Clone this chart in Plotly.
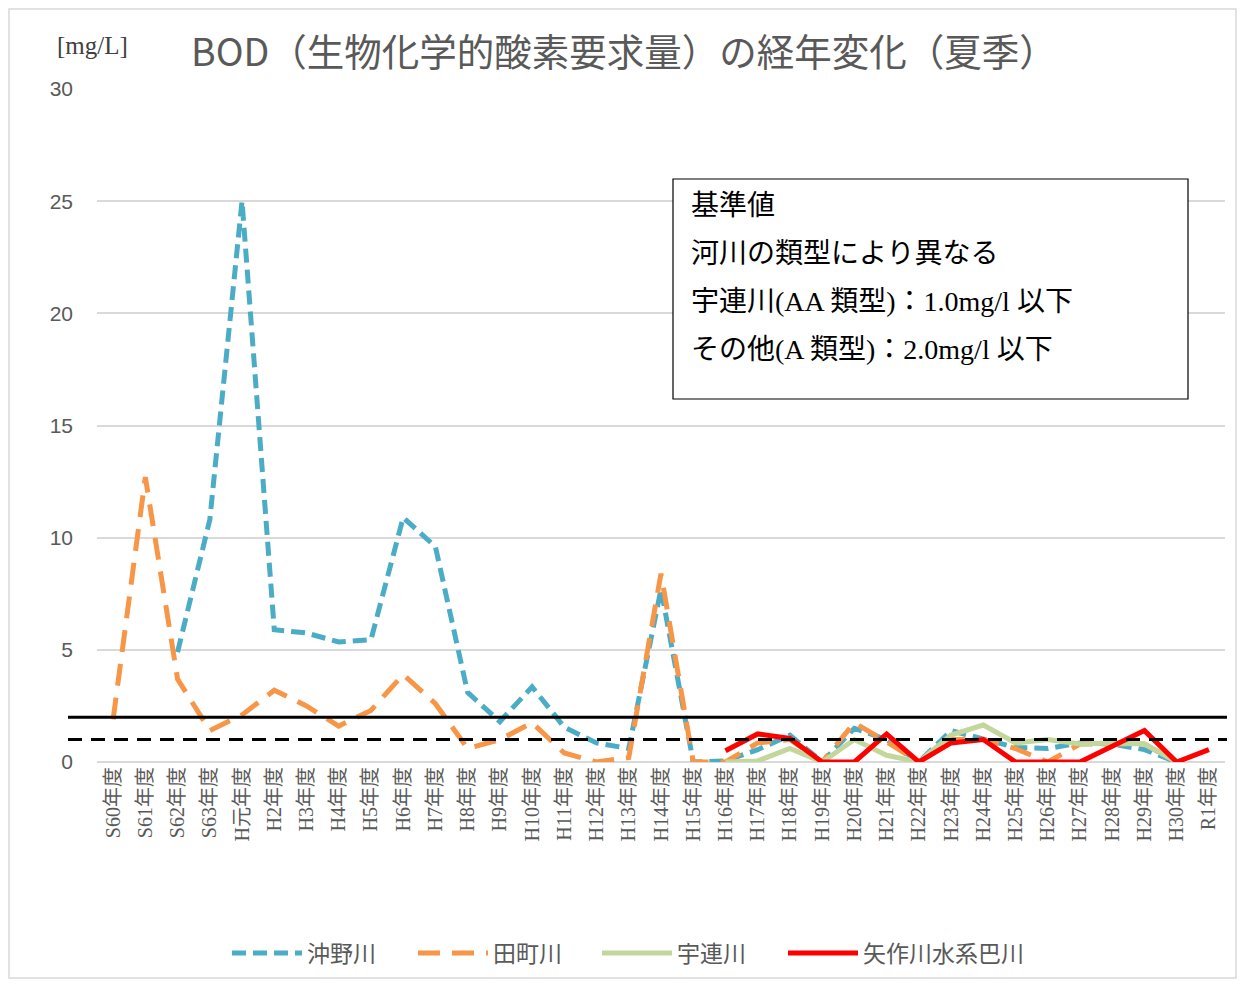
import plotly.graph_objects as go

categories = ["S60年度", "S61年度", "S62年度", "S63年度", "H元年度"] + \
    [f"H{i}年度" for i in range(2, 31)] + ["R1年度"]

okino = [None, None, 4.9, 10.8, 25.0, 5.9, 5.75, 5.35, 5.45, 10.9, 9.6, 3.1, 1.8, 3.35,
         1.55, 0.85, 0.6, 7.7, 0.0, 0.05, 0.55, 1.2, 0.0, 1.5, 1.0, 0.0, 1.4, 1.0,
         0.65, 0.6, 0.85, 0.8, 0.55, 0.0, None]
tamachi = [1.9, 12.7, 3.7, 1.4, 2.1, 3.2, 2.5, 1.6, 2.3, 3.9, 2.6, 0.6, 1.0, 1.75,
           0.4, 0.0, 0.2, 8.4, 0.0, 0.0, 0.85, 1.0, 0.0, 1.75, 0.9, 0.0, 1.0, 1.0,
           0.6, 0.0, 0.8, 0.8, 0.8, 0.0, None]
uren = [None] * 19 + [0.0, 0.05, 0.6, 0.0, 1.0, 0.3, 0.0, 1.2, 1.65, 0.85, 1.0,
                      0.8, 0.85, 0.8, 0.0, None]
tomoe = [None] * 19 + [0.5, 1.25, 1.05, 0.0, 0.0, 1.25, 0.0, 0.85, 1.0, 0.0, 0.0,
                       0.0, 0.7, 1.4, 0.0, 0.55]

series_names = ["沖野川", "田町川", "宇連川", "矢作川水系巴川"]
standard_values = [2.0, 1.0]  # A類型 (solid), AA類型 (dashed)

title_text = "BOD（生物化学的酸素要求量）の経年変化（夏季）"
unit_text = "[mg/L]"
box_lines = ["基準値", "河川の類型により異なる",
             "宇連川(AA 類型)：1.0mg/l 以下", "その他(A 類型)：2.0mg/l 以下"]

JP = "Noto Sans CJK JP"
SERIF = "Liberation Serif, Noto Sans CJK JP"
GRAY = "#595959"

fig = go.Figure()
fig.add_trace(go.Scatter(x=categories, y=okino, name=series_names[0], mode="lines",
                         line=dict(color="#4bacc6", width=5, dash="14px,7px"),
                         legend="legend"))
fig.add_trace(go.Scatter(x=categories, y=tamachi, name=series_names[1], mode="lines",
                         line=dict(color="#f79646", width=5, dash="22px,12px"),
                         legend="legend2"))
fig.add_trace(go.Scatter(x=categories, y=uren, name=series_names[2], mode="lines",
                         line=dict(color="#c3d69b", width=5), legend="legend3"))
fig.add_trace(go.Scatter(x=categories, y=tomoe, name=series_names[3], mode="lines",
                         line=dict(color="#ff0000", width=5), legend="legend4"))

# page offset of the figure (body margin) and plot area in page pixels
OFF = 8
FW, FH = 1229, 971
L, R, T, B = 97, 1225, 89, 762
W, H = R - L, B - T


def px(x):
    return (x - L) / W


def py(y):
    return (B - y) / H


shapes = []
shapes.append(dict(type="line", xref="paper", yref="y", x0=px(68), x1=px(1227),
                   y0=standard_values[0], y1=standard_values[0],
                   line=dict(color="black", width=3)))
shapes.append(dict(type="line", xref="paper", yref="y", x0=px(68), x1=px(1227),
                   y0=standard_values[1], y1=standard_values[1],
                   line=dict(color="black", width=3, dash="14px,9px")))
shapes.append(dict(type="rect", xref="paper", yref="paper", x0=px(673), x1=px(1188),
                   y0=py(399), y1=py(179), fillcolor="white",
                   line=dict(color="black", width=1.2), layer="above"))
shapes.append(dict(type="rect", xref="paper", yref="paper", x0=px(9), x1=px(1236),
                   y0=py(978), y1=py(9), line=dict(color="#d9d9d9", width=1.5)))

annotations = []
for i, t in enumerate(box_lines):
    annotations.append(dict(text=t, xref="paper", yref="paper", x=px(689), y=py(205 + 48 * i),
                            xanchor="left", yanchor="middle", showarrow=False,
                            font=dict(family=SERIF, size=28, color="black")))
annotations.append(dict(text=unit_text, xref="paper", yref="paper", x=px(92), y=py(45),
                        xanchor="center", yanchor="middle", showarrow=False,
                        font=dict(family=SERIF, size=25, color="#404040")))
annotations.append(dict(text=title_text, xref="paper", yref="paper", x=px(624), y=py(50),
                        xanchor="center", yanchor="middle", showarrow=False,
                        font=dict(family=JP, size=37.5, color=GRAY)))

legend_x = [227, 413, 597, 783]
legend_common = dict(orientation="h", xanchor="left", y=py(953), yanchor="middle",
                     font=dict(family=JP, size=23, color=GRAY), itemwidth=70,
                     bgcolor="rgba(0,0,0,0)")

fig.update_layout(
    width=FW, height=FH,
    margin=dict(l=L - OFF, r=OFF + FW - R, t=T - OFF, b=OFF + FH - B, pad=0,
                autoexpand=False),
    paper_bgcolor="white", plot_bgcolor="white",
    showlegend=True,
    legend=dict(x=px(legend_x[0]), **legend_common),
    legend2=dict(x=px(legend_x[1]), **legend_common),
    legend3=dict(x=px(legend_x[2]), **legend_common),
    legend4=dict(x=px(legend_x[3]), **legend_common),
    shapes=shapes, annotations=annotations,
    xaxis=dict(type="category", tickangle=-90, showgrid=False, ticks="",
               tickfont=dict(family=SERIF, size=20, color=GRAY), showline=False,
               zeroline=False, range=[-0.5, len(categories) - 0.5]),
    yaxis=dict(range=[0, 30], dtick=5, showgrid=True, gridcolor="#d9d9d9", gridwidth=1.5,
               zeroline=True, zerolinecolor="#d9d9d9", zerolinewidth=1.5,
               tickfont=dict(family="Liberation Sans", size=21, color=GRAY),
               ticklabelstandoff=23, showline=False, ticks=""),
)

fig.write_html("out.html")
